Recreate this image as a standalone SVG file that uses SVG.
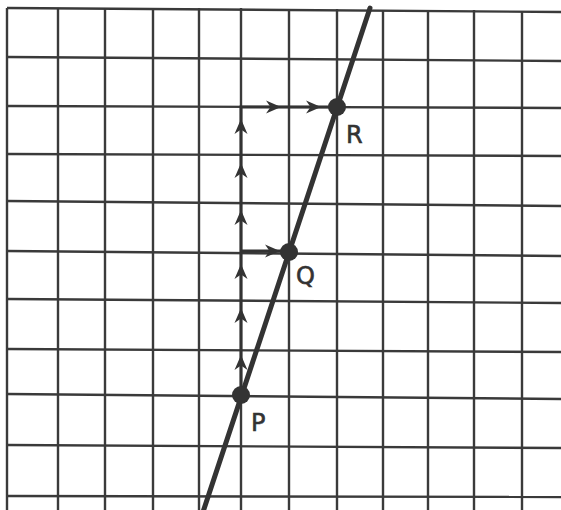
<svg xmlns="http://www.w3.org/2000/svg" width="561" height="510" viewBox="0 0 561 510">
<style>
.grid line{stroke:#3a3a3a;stroke-width:2.4;}
.conn{stroke:#333;stroke-width:3;fill:none;}
.main{stroke:#333;stroke-width:5;stroke-linecap:round;}
.dot{fill:#333;}
.ah{fill:#333;}
.lbl{font-family:"DejaVu Sans","Liberation Sans",sans-serif;font-size:24px;fill:#333;stroke:#333;stroke-width:0.6;}
</style>
<defs>
<path id="ahUp" class="ah" d="M0,0 L6.5,15 L0,10.5 L-6.5,15 Z"/>
</defs>
<rect width="561" height="510" fill="#ffffff"/>
<g class="grid" id="grid">
<line x1="7" y1="8" x2="7" y2="510"/>
<line x1="58" y1="8" x2="58" y2="510"/>
<line x1="105" y1="8" x2="105" y2="510"/>
<line x1="153" y1="8" x2="153" y2="510"/>
<line x1="199" y1="8" x2="199" y2="510"/>
<line x1="241" y1="8" x2="241" y2="510"/>
<line x1="289" y1="9" x2="289" y2="510"/>
<line x1="337" y1="9" x2="337" y2="510"/>
<line x1="383" y1="10" x2="383" y2="510"/>
<line x1="428" y1="10" x2="428" y2="510"/>
<line x1="474" y1="10" x2="474" y2="510"/>
<line x1="522" y1="11" x2="522" y2="510"/>
<line x1="7" y1="8" x2="561" y2="12"/>
<line x1="7" y1="57" x2="561" y2="61"/>
<line x1="7" y1="106" x2="561" y2="108"/>
<line x1="7" y1="154" x2="561" y2="156"/>
<line x1="7" y1="201" x2="561" y2="206"/>
<line x1="7" y1="251" x2="561" y2="256"/>
<line x1="7" y1="299" x2="561" y2="303"/>
<line x1="7" y1="349" x2="561" y2="352"/>
<line x1="7" y1="394" x2="561" y2="399"/>
<line x1="7" y1="445" x2="561" y2="448"/>
<line x1="7" y1="496" x2="561" y2="497"/>
</g>
<g id="connectors">
<line class="main" x1="370" y1="8" x2="203" y2="512"/>
<path class="conn" d="M241,395 L241,107 L337,107"/>
<path class="conn" d="M241,251 L289,251"/>
<use href="#ahUp" transform="translate(241,119)"/>
<use href="#ahUp" transform="translate(241,163)"/>
<use href="#ahUp" transform="translate(241,210)"/>
<use href="#ahUp" transform="translate(241,264)"/>
<use href="#ahUp" transform="translate(241,308)"/>
<use href="#ahUp" transform="translate(241,355)"/>
<use href="#ahUp" transform="translate(281,107) rotate(90)"/>
<use href="#ahUp" transform="translate(321,107) rotate(90)"/>
<use href="#ahUp" transform="translate(280,251) rotate(90)"/>
</g>
<g id="node-P">
<circle class="dot" cx="241" cy="395" r="9"/>
<text class="lbl" x="251" y="431">P</text>
</g>
<g id="node-Q">
<circle class="dot" cx="289" cy="252" r="9"/>
<text class="lbl" x="296" y="284">Q</text>
</g>
<g id="node-R">
<circle class="dot" cx="337" cy="107" r="9"/>
<text class="lbl" x="346" y="143">R</text>
</g>
</svg>
